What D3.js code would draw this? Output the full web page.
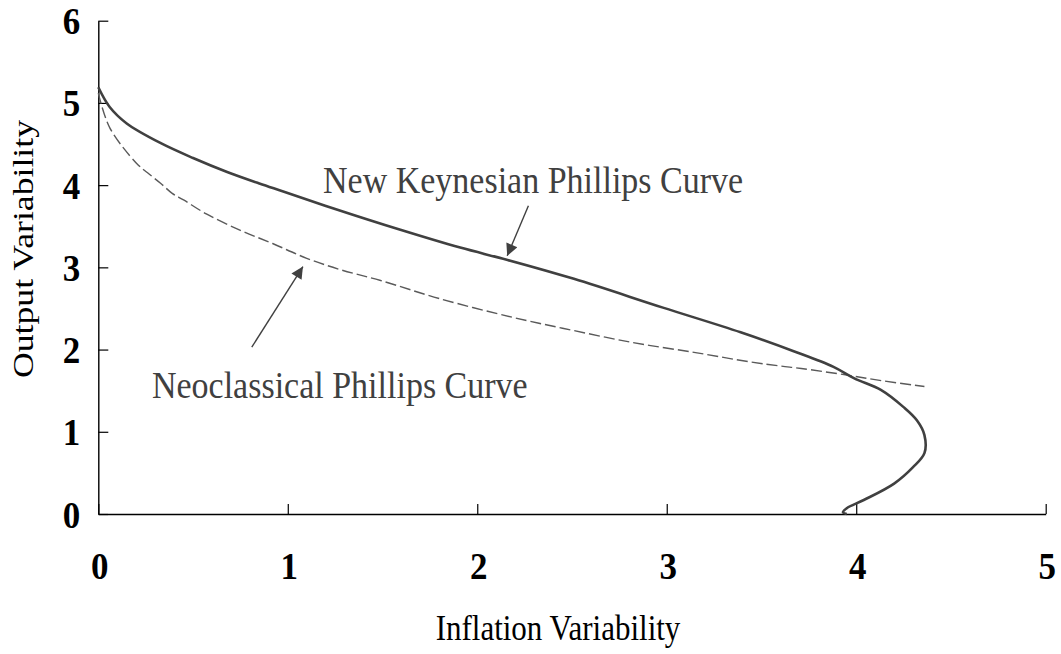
<!DOCTYPE html>
<html>
<head>
<meta charset="utf-8">
<script src="https://cdn.jsdelivr.net/npm/d3@7"></script>
<style>
  html, body { margin: 0; padding: 0; background: #fff; }
  svg { display: block; }
  text { font-family: "Liberation Serif", "Times New Roman", serif; }
</style>
</head>
<body>
<script>
// ---- data ----
const xTicks = [0, 1, 2, 3, 4, 5];
const yTicks = [0, 1, 2, 3, 4, 5, 6];

// New Keynesian Phillips Curve (inflation variability, output variability)
const nkInflation = [0, 0.06, 0.15, 0.33, 0.5, 0.68, 0.85, 0.98, 1.25, 1.59, 1.91, 2.16, 2.51, 2.98, 3.39, 3.67, 3.88, 3.99, 4.13, 4.25, 4.32, 4.36, 4.36, 4.30, 4.20, 4.04, 3.95, 3.93, 3.95];
const nkOutput    = [5.19, 4.95, 4.75, 4.51, 4.33, 4.16, 4.02, 3.92, 3.71, 3.46, 3.24, 3.09, 2.86, 2.51, 2.21, 1.98, 1.79, 1.65, 1.51, 1.30, 1.14, 0.96, 0.74, 0.57, 0.37, 0.17, 0.07, 0.02, 0.00];

// Neoclassical Phillips Curve
const ncInflation = [0, 0.06, 0.2, 0.26, 0.33, 0.39, 0.45, 0.57, 0.75, 0.92, 1.1, 1.28, 1.49, 1.8, 2.19, 2.45, 2.81, 3.16, 3.44, 3.6, 3.71, 3.95, 4.14, 4.36];
const ncOutput    = [5.12, 4.70, 4.27, 4.15, 4.02, 3.90, 3.82, 3.65, 3.45, 3.29, 3.11, 2.97, 2.84, 2.62, 2.39, 2.26, 2.09, 1.96, 1.85, 1.80, 1.77, 1.69, 1.62, 1.55];

const labels = ["New Keynesian Phillips Curve", "Neoclassical Phillips Curve"];
const labelAt = [[1.186, 3.90], [0.283, 1.41]];
const arrowFrom = [[2.27, 3.75], [0.81, 2.03]];
const arrowTo   = [[2.158, 3.14], [1.08, 3.01]];

const xTitle = "Inflation Variability";
const yTitle = "Output Variability";

// ---- chart ----
const W = 1061, H = 654;
const svg = d3.select("body").append("svg").attr("width", W).attr("height", H);

const x = d3.scaleLinear().domain([0, 5]).range([98.3, 1045.7]);
const y = d3.scaleLinear().domain([0, 6]).range([514, 20.7]);

const defs = svg.append("defs");
defs.append("marker")
  .attr("id", "ah").attr("viewBox", "0 0 10 10")
  .attr("refX", 10).attr("refY", 5)
  .attr("markerWidth", 15).attr("markerHeight", 12)
  .attr("markerUnits", "userSpaceOnUse")
  .attr("orient", "auto")
  .append("path").attr("d", "M0,0 L10,5 L0,10 Z").attr("fill", "#404040");

// axes
const xAxis = d3.axisBottom(x).tickValues(xTicks).tickSizeInner(-10).tickSizeOuter(0).tickPadding(0).tickFormat(d3.format("d"));
const yAxis = d3.axisLeft(y).tickValues(yTicks).tickSizeInner(-10).tickSizeOuter(0).tickPadding(0).tickFormat(d3.format("d"));

const gx = svg.append("g").attr("transform", `translate(0,${y(0)})`).call(xAxis);
const gy = svg.append("g").attr("transform", `translate(${x(0)},0)`).call(yAxis);
[gx, gy].forEach(g => {
  g.select(".domain").attr("stroke", "#000").attr("stroke-width", 1.4);
  g.selectAll(".tick line").attr("stroke", "#000").attr("stroke-width", 1.2);
  g.selectAll(".tick text")
    .attr("fill", "#000")
    .attr("dy", null)
    .style("font-family", '"Liberation Serif", "Times New Roman", serif')
    .style("font-weight", "bold")
    .style("font-size", "35px");
});
// position tick labels (vertically stretched like the reference)
gx.selectAll(".tick text").attr("y", null).attr("x", null)
  .attr("transform", "translate(1,65) scale(1,1.1)");
gy.selectAll(".tick text").attr("x", null).attr("y", null)
  .attr("text-anchor", "end")
  .attr("transform", "translate(-18,13) scale(1,1.1)");

// curves
const line = d3.line().x(d => x(d[0])).y(d => y(d[1])).curve(d3.curveCatmullRom.alpha(0.5));
const nk = nkInflation.map((v, i) => [v, nkOutput[i]]);
const nc = ncInflation.map((v, i) => [v, ncOutput[i]]);

svg.append("path").datum(nc)
  .attr("d", line).attr("fill", "none")
  .attr("stroke", "#5a5a5a").attr("stroke-width", 1.4)
  .attr("stroke-dasharray", "11,4");

svg.append("path").datum(nk)
  .attr("d", line).attr("fill", "none")
  .attr("stroke", "#404040").attr("stroke-width", 2.6)
  .attr("stroke-linejoin", "round");

// annotations
svg.selectAll(".ann").data(labels).enter().append("text")
  .attr("class", "ann")
  .attr("transform", (d, i) => `translate(${x(labelAt[i][0])},${y(labelAt[i][1])}) scale(1,1.1)`)
  .attr("fill", "#404040")
  .style("font-size", "34px")
  .text(d => d);

svg.selectAll(".arr").data(arrowFrom).enter().append("line")
  .attr("class", "arr")
  .attr("x1", d => x(d[0])).attr("y1", d => y(d[1]))
  .attr("x2", (d, i) => x(arrowTo[i][0])).attr("y2", (d, i) => y(arrowTo[i][1]))
  .attr("stroke", "#404040").attr("stroke-width", 1.4)
  .attr("marker-end", "url(#ah)");

// axis titles
svg.append("text")
  .attr("transform", "translate(558,640) scale(1,1.16)")
  .attr("text-anchor", "middle")
  .attr("fill", "#000")
  .style("font-size", "31px")
  .text(xTitle);

svg.append("text")
  .attr("transform", "translate(33,249) scale(1,1.19) rotate(-90)")
  .attr("text-anchor", "middle")
  .attr("fill", "#000")
  .style("font-size", "30px")
  .text(yTitle);
</script>
</body>
</html>
